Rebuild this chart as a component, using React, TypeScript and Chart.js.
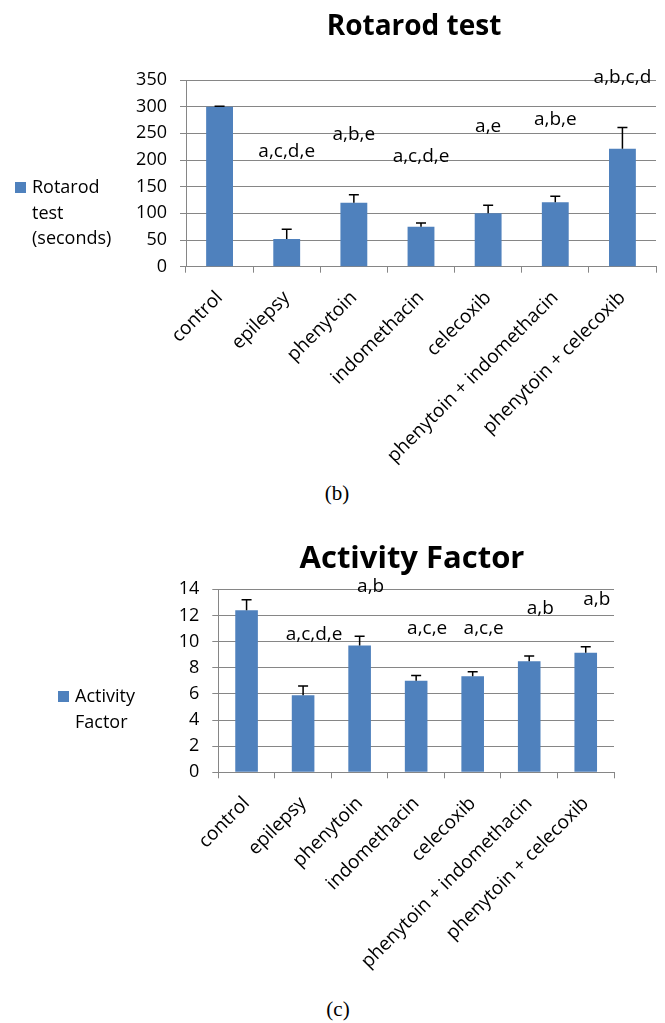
import React, { useEffect, useRef } from 'react';
import { Chart, registerables } from 'chart.js';

Chart.register(...registerables);

// ---------- data ----------
const categories = [
  'control',
  'epilepsy',
  'phenytoin',
  'indomethacin',
  'celecoxib',
  'phenytoin + indomethacin',
  'phenytoin + celecoxib',
];

const rotarodValues = [300, 52, 120, 75, 100, 121, 221];
const rotarodErrors = [1, 18, 15, 7, 15, 11, 40];
const rotarodLetters = ['', 'a,c,d,e', 'a,b,e', 'a,c,d,e', 'a,e', 'a,b,e', 'a,b,c,d'];
const rotarodLetterLevels = [0, 216, 247, 206, 263, 276, 354];
const rotarodYTicks = [0, 50, 100, 150, 200, 250, 300, 350];

const activityValues = [12.4, 5.9, 9.7, 7.0, 7.35, 8.5, 9.15];
const activityErrors = [0.8, 0.7, 0.7, 0.4, 0.35, 0.4, 0.45];
const activityLetters = ['', 'a,c,d,e', 'a,b', 'a,c,e', 'a,c,e', 'a,b', 'a,b'];
const activityLetterLevels = [0, 10.5, 14.2, 11.0, 11.0, 12.55, 13.2];
const activityYTicks = [0, 2, 4, 6, 8, 10, 12, 14];

// ---------- style ----------
const FONT = '"Open Sans", "Noto Sans", sans-serif';
const BAR = '#4F81BD';
const GRID = '#868686';

type PanelCfg = {
  title: string;
  titleSize: number;
  titleX: number;
  titleBaseline: number;
  legendLines: string[];
  legendX: number;
  legendY: number;
  values: number[];
  errors: number[];
  letters: string[];
  levels: number[];
  letterDx: number;
  yTicks: number[];
  height: number;
  padLeft: number;
  yWidth: number;
  padRight: number;
  padTop: number;
  xHeight: number;
  seriesName: string;
};

function makeDecor(cfg: PanelCfg) {
  return {
    id: 'decor',
    afterDatasetsDraw(chart: any) {
      const ctx = chart.ctx as CanvasRenderingContext2D;
      const meta = chart.getDatasetMeta(0);
      const y = chart.scales.y;
      const data = chart.data.datasets[0].data as number[];
      ctx.save();
      // error bars
      ctx.strokeStyle = '#000';
      ctx.lineWidth = 1.5;
      meta.data.forEach((bar: any, i: number) => {
        const top = y.getPixelForValue(data[i]);
        const errTop = y.getPixelForValue(data[i] + cfg.errors[i]);
        ctx.beginPath();
        ctx.moveTo(bar.x, top);
        ctx.lineTo(bar.x, errTop);
        ctx.moveTo(bar.x - 5, errTop);
        ctx.lineTo(bar.x + 5, errTop);
        ctx.stroke();
      });
      // significance letters
      ctx.fillStyle = '#000';
      ctx.font = `19px ${FONT}`;
      ctx.textAlign = 'center';
      ctx.textBaseline = 'middle';
      meta.data.forEach((bar: any, i: number) => {
        if (!cfg.letters[i]) return;
        ctx.fillText(cfg.letters[i], bar.x + cfg.letterDx, y.getPixelForValue(cfg.levels[i]));
      });
      // title
      ctx.font = `bold ${cfg.titleSize}px ${FONT}`;
      ctx.textAlign = 'center';
      ctx.textBaseline = 'alphabetic';
      ctx.fillText(cfg.title, cfg.titleX, cfg.titleBaseline);
      // legend
      ctx.fillStyle = BAR;
      ctx.fillRect(cfg.legendX, cfg.legendY - 6, 11, 11);
      ctx.fillStyle = '#000';
      ctx.font = `18px ${FONT}`;
      ctx.textAlign = 'left';
      ctx.textBaseline = 'middle';
      cfg.legendLines.forEach((line, i) => {
        ctx.fillText(line, cfg.legendX + 17, cfg.legendY + i * 25.5);
      });
      ctx.restore();
    },
  };
}

function BarPanel({ cfg, top }: { cfg: PanelCfg; top: number }) {
  const ref = useRef<HTMLCanvasElement>(null);
  useEffect(() => {
    const chart = new Chart(ref.current!, {
      type: 'bar',
      data: {
        labels: categories,
        datasets: [
          {
            label: cfg.seriesName,
            data: cfg.values,
            backgroundColor: BAR,
            borderWidth: 0,
            categoryPercentage: 1,
            barPercentage: 0.4,
          },
        ],
      },
      options: {
        animation: false,
        responsive: false,
        devicePixelRatio: 1,
        layout: {
          padding: { left: cfg.padLeft, right: cfg.padRight, top: cfg.padTop, bottom: 0 },
        },
        plugins: {
          legend: { display: false },
          title: { display: false },
          tooltip: { enabled: false },
        },
        scales: {
          x: {
            afterFit: (s: any) => {
              s.height = cfg.xHeight;
            },
            grid: {
              display: true,
              drawOnChartArea: false,
              drawTicks: true,
              tickLength: 6,
              color: GRID,
              offset: true,
            },
            border: { display: true, color: GRID },
            ticks: {
              autoSkip: false,
              maxRotation: 45,
              minRotation: 45,
              padding: 14,
              color: '#000',
              font: { family: FONT, size: 19 },
            },
          },
          y: {
            min: cfg.yTicks[0],
            max: cfg.yTicks[cfg.yTicks.length - 1],
            afterBuildTicks: (s: any) => {
              s.ticks = cfg.yTicks.map((v) => ({ value: v }));
            },
            afterFit: (s: any) => {
              s.width = cfg.yWidth;
            },
            grid: {
              color: GRID,
              drawTicks: true,
              tickLength: 6,
            },
            border: { display: true, color: GRID },
            ticks: {
              padding: 13,
              color: '#000',
              font: { family: FONT, size: 18 },
            },
          },
        },
      },
      plugins: [makeDecor(cfg)],
    } as any);
    return () => chart.destroy();
  }, []);
  return (
    <canvas
      ref={ref}
      width={665}
      height={cfg.height}
      style={{ position: 'absolute', left: 0, top, width: 665, height: cfg.height, display: 'block' }}
    />
  );
}

const rotarodCfg: PanelCfg = {
  title: 'Rotarod test',
  titleSize: 28,
  titleX: 414,
  titleBaseline: 35,
  legendLines: ['Rotarod', 'test', '(seconds)'],
  legendX: 15,
  legendY: 188,
  values: rotarodValues,
  errors: rotarodErrors,
  letters: rotarodLetters,
  levels: rotarodLetterLevels,
  letterDx: 0,
  yTicks: rotarodYTicks,
  height: 470,
  padLeft: 130,
  yWidth: 56,
  padRight: 9,
  padTop: 80,
  xHeight: 470 - 266.7,
  seriesName: 'Rotarod test (seconds)',
};

const P2 = 510;
const activityCfg: PanelCfg = {
  title: 'Activity Factor',
  titleSize: 31,
  titleX: 412,
  titleBaseline: 568 - P2,
  legendLines: ['Activity', 'Factor'],
  legendX: 58,
  legendY: 697 - P2,
  values: activityValues,
  errors: activityErrors,
  letters: activityLetters,
  levels: activityLetterLevels,
  letterDx: 11,
  yTicks: activityYTicks,
  height: 480,
  padLeft: 160,
  yWidth: 58.3,
  padRight: 51,
  padTop: 589.3 - P2,
  xHeight: 480 - (772.3 - P2),
  seriesName: 'Activity Factor',
};

const captionStyle: React.CSSProperties = {
  position: 'absolute',
  width: 100,
  textAlign: 'center',
  fontFamily: '"Liberation Serif", "DejaVu Serif", serif',
  fontSize: 21,
  lineHeight: '24px',
  color: '#000',
};

export default function App() {
  return (
    <div style={{ position: 'absolute', left: 0, top: 0, width: 665, height: 1023, background: '#fff', overflow: 'hidden' }}>
      <BarPanel cfg={rotarodCfg} top={0} />
      <div style={{ ...captionStyle, left: 287, top: 481 }}>(b)</div>
      <BarPanel cfg={activityCfg} top={P2} />
      <div style={{ ...captionStyle, left: 288, top: 997 }}>(c)</div>
    </div>
  );
}
